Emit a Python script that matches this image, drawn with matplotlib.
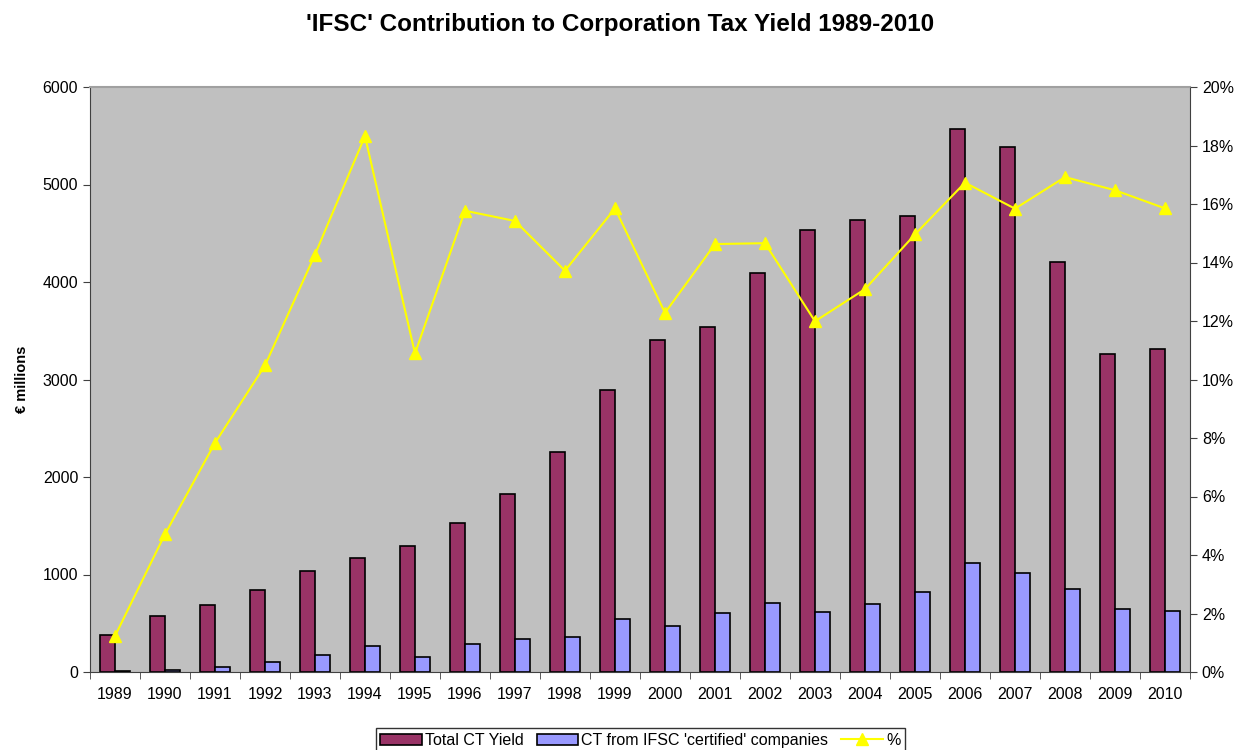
import numpy as np
import matplotlib
matplotlib.use('Agg')
from matplotlib import pyplot as plt
from matplotlib.ticker import FixedLocator, FuncFormatter

plt.rcParams['font.family'] = ['Liberation Sans', 'DejaVu Sans']

years = [str(y) for y in range(1989, 2011)]
total_ct = [380, 570, 690, 840, 1035, 1170, 1295, 1525, 1825, 2255, 2890, 3405,
            3540, 4095, 4535, 4635, 4680, 5565, 5380, 4210, 3260, 3315]
ifsc_ct = [8, 25, 55, 98, 172, 262, 157, 287, 334, 361, 542, 475,
           609, 703, 617, 697, 821, 1119, 1013, 856, 644, 624]
pct = [1.23, 4.71, 7.83, 10.48, 14.27, 18.32, 10.89, 15.77, 15.42, 13.72, 15.85,
       12.28, 14.63, 14.66, 11.99, 13.09, 14.96, 16.73, 15.84, 16.92, 16.47, 15.85]

fig = plt.figure(figsize=(12.41, 7.5), dpi=100)
ax = fig.add_axes([0.0725, 0.104, 0.8864, 0.78])
ax.set_facecolor('#C0C0C0')

x = np.arange(len(years))
w = 0.3
b1 = ax.bar(x - w / 2, total_ct, w, color='#993366', edgecolor='black',
            linewidth=1.2, label='Total CT Yield', zorder=2)
b2 = ax.bar(x + w / 2, ifsc_ct, w, color='#9999FF', edgecolor='black',
            linewidth=1.2, label="CT from IFSC 'certified' companies", zorder=2)

ax.set_xlim(-0.5, len(years) - 0.5)
ax.set_ylim(0, 6000)
ax.set_yticks(range(0, 6001, 1000))
ax.set_xticks(x)
ax.set_xticklabels(years)
ax.xaxis.set_minor_locator(FixedLocator(np.arange(-0.5, len(years), 1.0)))
ax.tick_params(axis='x', which='major', length=0, pad=11, labelsize=11.5)
ax.tick_params(axis='x', which='minor', length=5, direction='out', color='#404040')
ax.tick_params(axis='y', length=5, direction='out', labelsize=11.5, color='#404040')
ax.set_ylabel('€ millions', fontsize=10.5, fontweight='bold', labelpad=10)

for s in ['left', 'bottom', 'right']:
    ax.spines[s].set_color('#404040')
ax.spines['top'].set_color('#A0A0A0')
ax.spines['top'].set_linewidth(1.5)

ax2 = ax.twinx()
ln, = ax2.plot(x, pct, color='#FFFF00', linewidth=1.5, marker='^',
               markersize=8, markerfacecolor='#FFFF00', markeredgecolor='#FFFF00',
               label='%', zorder=3)
ax2.set_ylim(0, 20)
ax2.set_yticks(range(0, 21, 2))
ax2.yaxis.set_major_formatter(FuncFormatter(lambda v, p: '{:.0f}%'.format(v)))
ax2.tick_params(axis='y', length=5, direction='out', labelsize=11.5, color='#404040')
for s in ['left', 'bottom', 'right', 'top']:
    ax2.spines[s].set_visible(False)

fig.suptitle("'IFSC' Contribution to Corporation Tax Yield 1989-2010",
             fontsize=17.5, fontweight='bold', y=0.982)

leg = fig.legend([b1, b2, ln],
                 ['Total CT Yield', "CT from IFSC 'certified' companies", '%'],
                 loc='lower center', bbox_to_anchor=(0.516, -0.014), ncol=3,
                 fontsize=11.5, frameon=True, fancybox=False, edgecolor='black',
                 handlelength=2.6, handletextpad=0.2, columnspacing=0.8,
                 borderpad=0.3)
leg.get_frame().set_linewidth(1.0)

fig.savefig('out.png', dpi=100)
